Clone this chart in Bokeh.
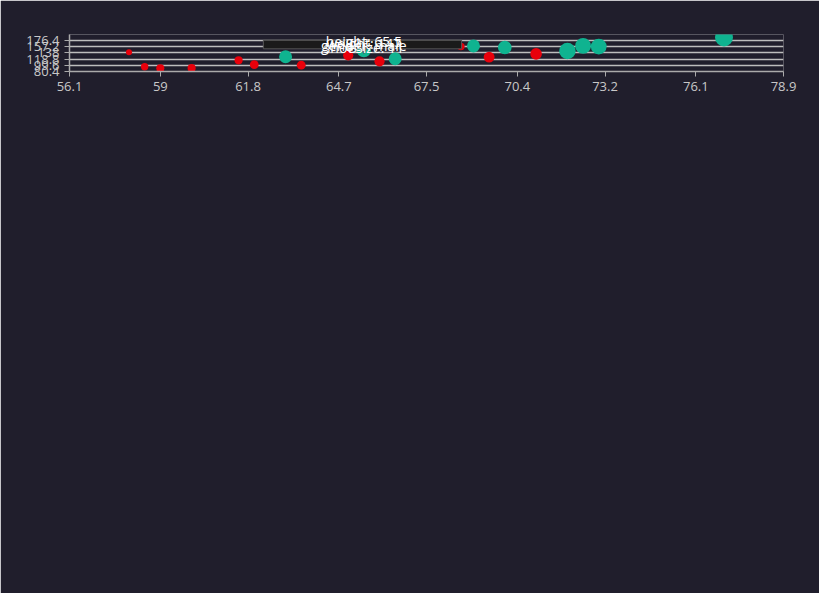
from bokeh.plotting import figure
from bokeh.models import FixedTicker, Legend, LegendItem, Range1d
from bokeh.core.properties import value
from bokeh.embed import file_html
from bokeh.resources import INLINE

# data
female_height = [58, 58.5, 59, 60, 61.5, 62, 63.5, 65, 66, 68.6, 69.5, 71]
female_weight = [140, 95, 90.3, 91, 115, 102, 100, 130.6, 112, 158.3, 125.2, 135.1]
female_shoe = [5, 6, 6.5, 6.5, 6.5, 7, 7, 8, 8, 6, 8.5, 9]
male_height = [63, 65.5, 66.5, 69, 70, 72, 72.5, 73, 77]
male_weight = [126.2, 147, 120, 160, 155, 144, 160, 158, 186]
male_shoe = [10, 11, 10, 10, 10.5, 12.5, 12, 12, 13.5]
x_ticks = [56.1, 59, 61.8, 64.7, 67.5, 70.4, 73.2, 76.1, 78.9]
y_ticks = [80.4, 99.6, 118.8, 138, 157.2, 176.4]
hover = dict(height=65.5, weight=147, gender="male", shoeSize=11)

BG = "#201e2c"
FONT = "Open Sans"

def radius_px(s):
    return 3 + (s - 5) * 0.7

p = figure(width=819, height=593, output_backend="svg", toolbar_location=None,
           x_range=Range1d(56.1, 78.9), y_range=Range1d(80.4, 195.4),
           min_border_left=69, min_border_right=36, min_border_top=34, min_border_bottom=94)
p.background_fill_color = BG
p.border_fill_color = BG
p.outline_line_color = None
p.outline_line_alpha = 0
p.xgrid.visible = False
p.ygrid.grid_line_color = "#bdbdbd"
p.ygrid.grid_line_width = 1.5
p.xaxis.ticker = FixedTicker(ticks=x_ticks)
p.yaxis.ticker = FixedTicker(ticks=y_ticks)
p.xaxis.major_label_overrides = {t: ("%g" % t) for t in x_ticks}
p.yaxis.major_label_overrides = {t: ("%g" % t) for t in y_ticks}
for ax in (p.xaxis, p.yaxis):
    ax.axis_line_color = "#aaaaaa"
    ax.axis_line_width = 1.5
    ax.major_tick_line_color = "#aaaaaa"
    ax.minor_tick_line_color = None
    ax.major_tick_out = 5
    ax.major_tick_in = 0
    ax.major_label_text_color = "#c8c8c8"
    ax.major_label_text_font = FONT
    ax.major_label_text_font_size = "13px"

rf = p.scatter(female_height, female_weight, size=[2 * radius_px(s) for s in female_shoe],
               fill_color="#e8000b", line_color=None)
rm = p.scatter(male_height, male_weight, size=[2 * radius_px(s) for s in male_shoe],
               fill_color="#0fb390", line_color=None)

# tooltip of the hovered point
hx, hy = hover["height"], hover["weight"]
p.quad(left=[hx - 3.21], right=[hx + 3.12], bottom=[hy + 3.9], top=[hy + 30.9],
       fill_color="#1a1a1a", line_color="#555555", line_width=1)
p.scatter([hx], [hy + 3.0], marker="inverted_triangle", size=9,
          fill_color="#555555", line_color=None)
lines = ["height: %g" % hx, "weight: %g" % hy, "gender: %s" % hover["gender"],
         "shoeSize: %g" % hover["shoeSize"]]
p.text(x=[hx] * 4, y=[hy + 25.7, hy + 20.0, hy + 14.3, hy + 9.1], text=lines,
       text_color="white", text_font=value(FONT), text_font_size="14px",
       text_align="center", text_baseline="middle")

lg = Legend(items=[LegendItem(label="female", renderers=[rf]),
                   LegendItem(label="male", renderers=[rm])],
            orientation="horizontal", location="top_left", spacing=553,
            margin=0, padding=0, background_fill_alpha=0, border_line_color=None,
            label_text_color="#d0d0d0", label_text_font=FONT, label_text_font_size="15px",
            glyph_width=16, glyph_height=16, label_standoff=6)
lg.margin = 0
p.add_layout(lg, "below")
lg.location = (3, -22)

open("out.html", "w").write(file_html(p, INLINE))
